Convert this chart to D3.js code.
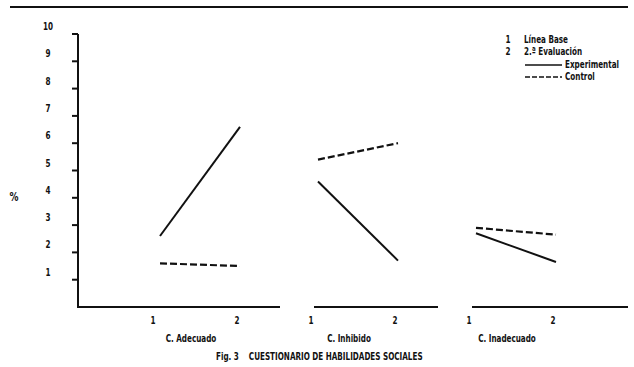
<!DOCTYPE html>
<html>
<head>
<meta charset="utf-8">
<script src="https://cdn.jsdelivr.net/npm/d3@7"></script>
<style>
  body { margin: 0; background: #fff; }
  text { font-family: "DejaVu Sans Condensed", "DejaVu Sans", sans-serif; font-weight: bold; fill: #111; }
</style>
</head>
<body>
<div id="viz"></div>
<script>
const width = 634, height = 367;

// data
const categories = ["C. Adecuado", "C. Inhibido", "C. Inadecuado"];
const evaluations = ["1", "2"];
const experimental = [[2.6, 6.6], [4.6, 1.7], [2.7, 1.65]];
const control = [[1.6, 1.5], [5.4, 6.0], [2.9, 2.65]];
const yTicks = [1, 2, 3, 4, 5, 6, 7, 8, 9, 10];
const legendKey = [["1", "Línea Base"], ["2", "2.ª Evaluación"]];
const seriesNames = ["Experimental", "Control"];
const caption = "Fig. 3    CUESTIONARIO DE HABILIDADES SOCIALES";

const svg = d3.select("#viz").append("svg")
  .attr("width", width)
  .attr("height", height);

const ink = "#111";
const fs = 10.5;

// the print uses a narrow face: measure the caption and squeeze every label to match
const probe = svg.append("text").attr("font-size", fs).attr("xml:space", "preserve").text(caption);
const squeeze = 207 / probe.node().getComputedTextLength();
probe.remove();

function label(sel, x, y, anchor, size) {
  return sel.append("g")
    .attr("transform", (d, i) => `translate(${typeof x === "function" ? x(d, i) : x},${typeof y === "function" ? y(d, i) : y}) scale(${squeeze},1)`)
    .append("text")
    .attr("text-anchor", anchor)
    .attr("font-size", size || fs);
}

// top rule
svg.append("line")
  .attr("x1", 10).attr("x2", 628)
  .attr("y1", 7).attr("y2", 7)
  .attr("stroke", ink).attr("stroke-width", 2);

const y = d3.scaleLinear().domain([0, 10]).range([307, 34]);
const x = d3.scaleBand().domain(categories).range([121, 595]);
const xc = c => x(c) + x.bandwidth() / 2;
const sub = d3.scalePoint().domain(evaluations).range([-40, 40]);

// y axis
const axisX = 78;
svg.append("line")
  .attr("x1", axisX).attr("x2", axisX)
  .attr("y1", y(10)).attr("y2", y(0) + 1)
  .attr("stroke", ink).attr("stroke-width", 2);

svg.selectAll("line.ytick")
  .data(yTicks).enter()
  .append("line")
  .attr("class", "ytick")
  .attr("x1", axisX - 6).attr("x2", axisX)
  .attr("y1", d => y(d)).attr("y2", d => y(d))
  .attr("stroke", ink).attr("stroke-width", 2);

label(svg.selectAll(null).data(yTicks).enter(), 48, d => y(d) - 4, "middle")
  .text(d => d);

label(svg, 14, 201, "middle", 13).text("%");

// x axis segments, one per category
svg.selectAll("line.xseg")
  .data(categories).enter()
  .append("line")
  .attr("class", "xseg")
  .attr("x1", (d, i) => i === 0 ? axisX : xc(d) - 44)
  .attr("x2", (d, i) => i === categories.length - 1 ? 628 : xc(d) + 80)
  .attr("y1", y(0)).attr("y2", y(0))
  .attr("stroke", ink).attr("stroke-width", 2);

categories.forEach(c => {
  label(svg.selectAll(null).data(evaluations).enter(),
    d => xc(c) + (d === "1" ? -47 : 37), 324, "middle")
    .text(d => d);
});

label(svg.selectAll(null).data(categories).enter(), d => xc(d) - 9, 342, "middle")
  .text(d => d);

// lines
const line = d3.line()
  .x(d => d.x)
  .y(d => y(d.v));

function pts(vals, i) {
  return evaluations.map((e, j) => ({ x: xc(categories[i]) + sub(e), v: vals[j] }));
}

svg.selectAll("path.exp")
  .data(experimental).enter()
  .append("path")
  .attr("class", "exp")
  .attr("d", (d, i) => line(pts(d, i)))
  .attr("fill", "none")
  .attr("stroke", ink).attr("stroke-width", 2);

svg.selectAll("path.ctl")
  .data(control).enter()
  .append("path")
  .attr("class", "ctl")
  .attr("d", (d, i) => line(pts(d, i)))
  .attr("fill", "none")
  .attr("stroke", ink).attr("stroke-width", 2.2)
  .attr("stroke-dasharray", "7,3");

// legend
label(svg.selectAll(null).data(legendKey).enter(), 508, (d, i) => 43 + i * 12, "middle")
  .text(d => d[0]);
label(svg.selectAll(null).data(legendKey).enter(), 524, (d, i) => 43 + i * 12, "start")
  .text(d => d[1]);

svg.selectAll("line.sw")
  .data(seriesNames).enter()
  .append("line")
  .attr("x1", 525).attr("x2", 562)
  .attr("y1", (d, i) => 65 + i * 12).attr("y2", (d, i) => 65 + i * 12)
  .attr("stroke", ink).attr("stroke-width", 1.6)
  .attr("stroke-dasharray", (d, i) => i ? "5,2" : null);
label(svg.selectAll(null).data(seriesNames).enter(), 565, (d, i) => 68 + i * 12, "start")
  .text(d => d);

// caption
label(svg, 216, 360, "start")
  .attr("xml:space", "preserve")
  .text(caption);
</script>
</body>
</html>
